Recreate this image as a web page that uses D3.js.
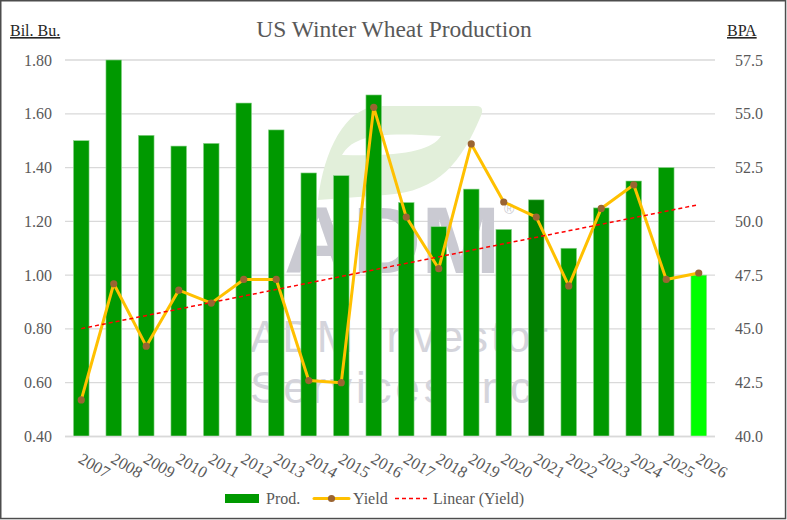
<!DOCTYPE html>
<html>
<head>
<meta charset="utf-8">
<script src="https://cdn.jsdelivr.net/npm/d3@7"></script>
<style>
  html, body { margin: 0; padding: 0; background: #fff; }
  svg { display: block; }
</style>
</head>
<body>
<svg id="chart" width="787" height="520"></svg>
<script>
// ---- data ----
const years = ["2007","2008","2009","2010","2011","2012","2013","2014","2015","2016",
               "2017","2018","2019","2020","2021","2022","2023","2024","2025","2026"];
const production = [1.50, 1.80, 1.52, 1.48, 1.49, 1.64, 1.54, 1.38, 1.37, 1.67,
                    1.27, 1.18, 1.32, 1.17, 1.28, 1.10, 1.25, 1.35, 1.40, 1.00];
const yieldBPA = [41.7, 47.1, 44.2, 46.8, 46.2, 47.3, 47.3, 42.6, 42.5, 55.3,
                  50.2, 47.8, 53.6, 50.9, 50.2, 47.0, 50.6, 51.7, 47.3, 47.6];
const leftTicks = [0.40, 0.60, 0.80, 1.00, 1.20, 1.40, 1.60, 1.80];
const rightTicks = [40.0, 42.5, 45.0, 47.5, 50.0, 52.5, 55.0, 57.5];
const barColors = years.map(y => y === "2021" ? "#008000" : (y === "2026" ? "#00ff00" : "#009900"));

const FONT = "'Liberation Serif', 'DejaVu Serif', serif";
const TXT = "#595959";

const svg = d3.select("#chart");
const W = 787, H = 520;
const plot = { left: 65, right: 715, top: 60, bottom: 436.5 };

const x = d3.scaleBand().domain(years).range([plot.left, plot.right])
  .paddingInner(0.52).paddingOuter(0.26);
const yL = d3.scaleLinear().domain([0.4, 1.8]).range([plot.bottom, plot.top]);
const yR = d3.scaleLinear().domain([40, 57.5]).range([plot.bottom, plot.top]);

// outer border
svg.append("rect").attr("x", 0.75).attr("y", 0.75).attr("width", W - 2.2).attr("height", H - 2.2)
  .attr("fill", "#fff").attr("stroke", "#4d4d4d").attr("stroke-width", 1.5);

// gridlines
svg.append("g").selectAll("line").data(leftTicks).join("line")
  .attr("x1", plot.left).attr("x2", plot.right)
  .attr("y1", d => yL(d)).attr("y2", d => yL(d))
  .attr("stroke", "#d9d9d9").attr("stroke-width", 1.3);

// watermark
const wm = svg.append("g");
wm.append("path")
  .attr("d", "M318,200 C324,150 345,108 378,106 L476,106 C484,106 483,112 480,118 C462,160 440,192 385,195 Z " +
             "M342,155 C352,138 372,131 441,136 C432,150 404,157 342,155 Z")
  .attr("fill", "#e2efda").attr("fill-rule", "evenodd");
wm.append("text").attr("x", 284).attr("y", 273).text("ADM")
  .attr("font-family", "'Liberation Sans', Arial, sans-serif").attr("font-weight", "bold")
  .attr("font-size", 95).attr("fill", "#cacad2");
wm.append("text").attr("x", 504).attr("y", 214).text("®")
  .attr("font-family", "'Liberation Sans', Arial, sans-serif")
  .attr("font-size", 14).attr("fill", "#cacad2");
wm.append("text").attr("x", 250).attr("y", 352).text("ADM Investor")
  .attr("font-family", "'Liberation Sans', Arial, sans-serif")
  .attr("font-size", 44).attr("fill", "#d4d4db")
  .attr("textLength", 298).attr("lengthAdjust", "spacing");
wm.append("text").attr("x", 250).attr("y", 403).text("Services Inc")
  .attr("font-family", "'Liberation Sans', Arial, sans-serif")
  .attr("font-size", 44).attr("fill", "#d4d4db")
  .attr("textLength", 282).attr("lengthAdjust", "spacing");

// bars
svg.append("g").selectAll("rect").data(years).join("rect")
  .attr("x", d => x(d))
  .attr("width", x.bandwidth())
  .attr("y", (d, i) => yL(production[i]))
  .attr("height", (d, i) => yL(0.4) - yL(production[i]))
  .attr("fill", (d, i) => barColors[i])
  .attr("stroke", "#8fd48f").attr("stroke-width", 0.6);

// axis baseline
svg.append("line").attr("x1", plot.left).attr("x2", plot.right)
  .attr("y1", yL(0.4)).attr("y2", yL(0.4)).attr("stroke", "#d9d9d9").attr("stroke-width", 1.3);

// yield line
const cx = d => x(d) + x.bandwidth() / 2;
const line = d3.line().x((d, i) => cx(years[i])).y(d => yR(d));
svg.append("path").datum(yieldBPA).attr("d", line)
  .attr("fill", "none").attr("stroke", "#ffc000").attr("stroke-width", 3)
  .attr("stroke-linejoin", "round").attr("stroke-linecap", "round");

// linear trend (least squares over the yield series)
const n = yieldBPA.length;
const mx = d3.mean(d3.range(n)), my = d3.mean(yieldBPA);
const slope = d3.sum(d3.range(n), i => (i - mx) * (yieldBPA[i] - my)) / d3.sum(d3.range(n), i => (i - mx) ** 2);
const icpt = my - slope * mx;
svg.append("line")
  .attr("x1", cx(years[0])).attr("y1", yR(icpt))
  .attr("x2", cx(years[n - 1])).attr("y2", yR(icpt + slope * (n - 1)))
  .attr("stroke", "#ff0000").attr("stroke-width", 1.5).attr("stroke-dasharray", "4,3");

// markers
svg.append("g").selectAll("circle").data(yieldBPA).join("circle")
  .attr("cx", (d, i) => cx(years[i])).attr("cy", d => yR(d)).attr("r", 3.6)
  .attr("fill", "#9a6432");

// left axis labels
svg.append("g").selectAll("text").data(leftTicks).join("text")
  .attr("x", 52).attr("y", d => yL(d) + 5.5).attr("text-anchor", "end")
  .attr("font-family", FONT).attr("font-size", 16).attr("fill", TXT)
  .text(d => d3.format(".2f")(d));

// right axis labels
svg.append("g").selectAll("text").data(rightTicks).join("text")
  .attr("x", 735).attr("y", d => yR(d) + 5.5).attr("text-anchor", "start")
  .attr("font-family", FONT).attr("font-size", 16).attr("fill", TXT)
  .text(d => d3.format(".1f")(d));

// x labels
svg.append("g").selectAll("text").data(years).join("text")
  .attr("transform", d => `translate(${cx(d) - 4},${462}) rotate(30)`)
  .attr("font-family", FONT).attr("font-size", 16.5).attr("fill", TXT)
  .text(d => d);

// title and axis titles
svg.append("text").attr("x", 394).attr("y", 37).attr("text-anchor", "middle")
  .attr("font-family", FONT).attr("font-size", 23.5).attr("fill", TXT)
  .text("US Winter Wheat Production");
svg.append("text").attr("x", 10).attr("y", 36)
  .attr("font-family", FONT).attr("font-size", 16).attr("fill", "#262626")
  .attr("text-decoration", "underline").text("Bil. Bu.");
svg.append("text").attr("x", 727).attr("y", 36)
  .attr("font-family", FONT).attr("font-size", 16).attr("fill", "#262626")
  .attr("text-decoration", "underline").text("BPA");

// legend
const lg = svg.append("g").attr("font-family", FONT).attr("font-size", 16).attr("fill", TXT);
lg.append("rect").attr("x", 225).attr("y", 494).attr("width", 34).attr("height", 9).attr("fill", "#009900");
lg.append("text").attr("x", 266).attr("y", 504).text("Prod.");
lg.append("line").attr("x1", 314).attr("x2", 349).attr("y1", 498.5).attr("y2", 498.5)
  .attr("stroke", "#ffc000").attr("stroke-width", 3).attr("stroke-linecap", "round");
lg.append("circle").attr("cx", 331.5).attr("cy", 498.5).attr("r", 3.6).attr("fill", "#9a6432");
lg.append("text").attr("x", 353).attr("y", 504).text("Yield");
lg.append("line").attr("x1", 395).attr("x2", 428).attr("y1", 498.5).attr("y2", 498.5)
  .attr("stroke", "#ff0000").attr("stroke-width", 1.5).attr("stroke-dasharray", "4,3");
lg.append("text").attr("x", 433).attr("y", 504).text("Linear (Yield)");
</script>
</body>
</html>
